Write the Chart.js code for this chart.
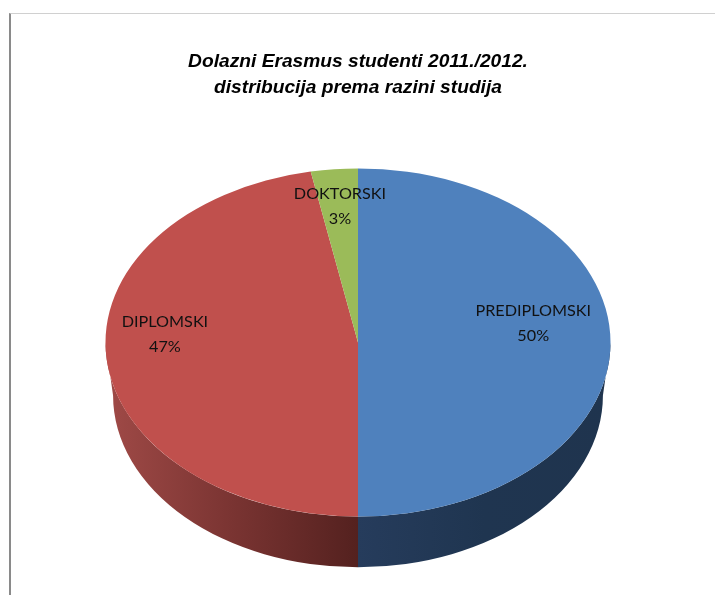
<!DOCTYPE html>
<html>
<head>
<meta charset="utf-8">
<style>
html,body{margin:0;padding:0;background:#fff;}
#wrap{position:relative;width:715px;height:595px;overflow:hidden;}
#frame{position:absolute;left:9px;top:13px;right:-5px;bottom:-5px;border-left:2px solid #8a8a8a;border-top:1px solid #d0d0d0;}
canvas{position:absolute;left:0;top:0;}
</style>
<script src="https://cdn.jsdelivr.net/npm/chart.js@4"></script>
</head>
<body>
<div id="wrap"><div id="frame"></div><canvas id="c" width="715" height="595"></canvas></div>
<script>
const categories = ['PREDIPLOMSKI', 'DIPLOMSKI', 'DOKTORSKI'];
const shares = [50, 47, 3];
const titleLines = ['Dolazni Erasmus studenti 2011./2012.', 'distribucija prema razini studija'];
const topColors = ['#4f81bd', '#c0504d', '#9bbb59'];
const wallColors = [['#263c5c', '#1f3550', '#1f344e'], ['#54211f', '#7a3432', '#a04a47'], ['#5d7035', '#5d7035', '#5d7035']];
const labelNudges = [[1, -19.5], [-2, -20.5], [0, -4.5]];
const tilt = 0.689, wallTilt = 0.681 * 1.03, wallDrop = 53, wallShrink = 0.97;

const tiltPlugin = {
  id: 'tilt',
  beforeDatasetsDraw(chart) {
    const ctx = chart.ctx, arcs = chart.getDatasetMeta(0).data;
    arcs.forEach((arc, i) => {
      const p = arc.getProps(['x', 'y', 'startAngle', 'endAngle', 'outerRadius'], true);
      const a0 = Math.max(p.startAngle, 0), a1 = Math.min(p.endAngle, Math.PI);
      if (a1 <= a0) return;
      const r = p.outerRadius;
      const grad = ctx.createLinearGradient(p.x + r * Math.cos(a1), 0, p.x + r * Math.cos(a0), 0);
      const stops = wallColors[i];
      grad.addColorStop(0, i === 0 ? stops[0] : stops[2]);
      grad.addColorStop(0.5, stops[1]);
      grad.addColorStop(1, i === 0 ? stops[2] : stops[0]);
      ctx.save();
      ctx.beginPath();
      ctx.ellipse(p.x, p.y, r, r * tilt, 0, a0, a1, false);
      ctx.ellipse(p.x, p.y + wallDrop, r * wallShrink, r * wallTilt * wallShrink, 0, a1, a0, true);
      ctx.closePath();
      ctx.fillStyle = grad;
      ctx.fill();
      ctx.restore();
    });
    const first = arcs[0];
    ctx.save();
    ctx.translate(first.x, first.y);
    ctx.scale(1, tilt);
    ctx.translate(-first.x, -first.y);
  },
  afterDatasetsDraw(chart) {
    const ctx = chart.ctx;
    ctx.restore();
    const arcs = chart.getDatasetMeta(0).data;
    ctx.save();
    ctx.font = '16.2px Lato, sans-serif';
    ctx.fillStyle = '#111';
    ctx.textAlign = 'center';
    ctx.textBaseline = 'middle';
    arcs.forEach((arc, i) => {
      const p = arc.getProps(['x', 'y', 'startAngle', 'endAngle', 'outerRadius'], true);
      const mid = (p.startAngle + p.endAngle) / 2;
      const frac = i === 0 ? 0.69 : 0.76;
      const x = p.x + Math.cos(mid) * p.outerRadius * frac + labelNudges[i][0];
      const y = p.y + Math.sin(mid) * p.outerRadius * frac * tilt + labelNudges[i][1];
      ctx.fillText(categories[i], x, y - 12.5);
      ctx.fillText(shares[i] + '%', x, y + 12.5);
    });
    ctx.restore();
  }
};

new Chart(document.getElementById('c'), {
  type: 'pie',
  data: {
    labels: categories,
    datasets: [{
      data: shares,
      backgroundColor: topColors,
      borderWidth: 0,
      radius: 252.5,
      clip: false
    }]
  },
  options: {
    responsive: false,
    animation: false,
    layout: { padding: { left: 1, right: 0, top: 0, bottom: 11 } },
    plugins: {
      legend: { display: false },
      tooltip: { enabled: false },
      title: {
        display: true,
        text: titleLines,
        color: '#000',
        font: { family: '"Liberation Sans", Arial, sans-serif', size: 19.2, weight: 'bold', style: 'italic', lineHeight: 1.354 },
        padding: { top: 49, bottom: 0 }
      }
    }
  },
  plugins: [tiltPlugin]
});
</script>
</body>
</html>
